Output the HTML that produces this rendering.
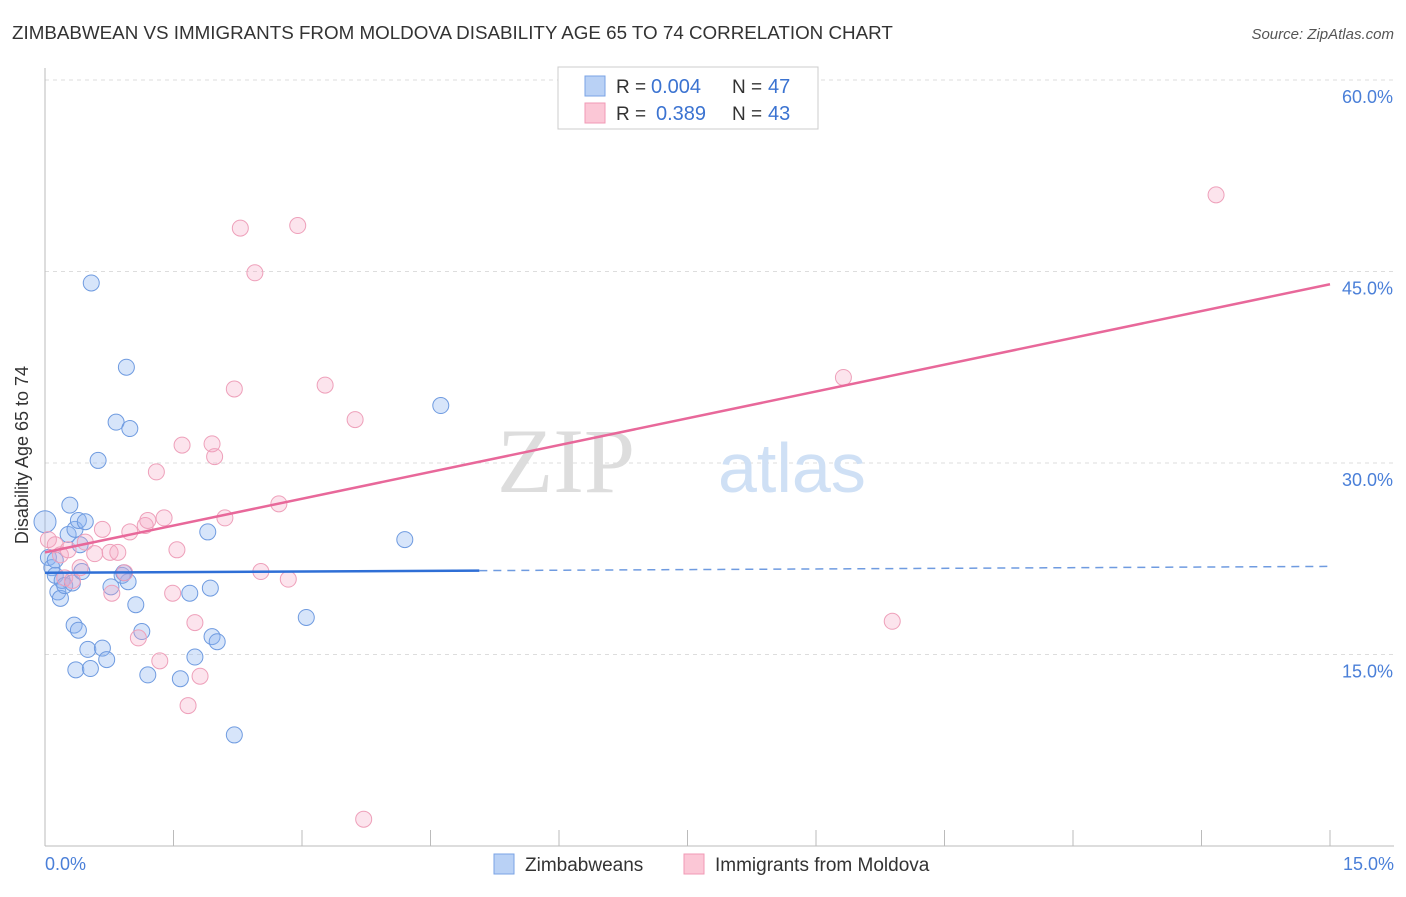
<!DOCTYPE html>
<html><head><meta charset="utf-8"><style>
body{margin:0;background:#fff;font-family:"Liberation Sans",sans-serif}
</style></head><body>
<svg width="1406" height="892" xmlns="http://www.w3.org/2000/svg" font-family="Liberation Sans, sans-serif">
<text x="12" y="39" font-size="18.8" fill="#333">ZIMBABWEAN VS IMMIGRANTS FROM MOLDOVA DISABILITY AGE 65 TO 74 CORRELATION CHART</text>
<text x="1394" y="39" font-size="15" fill="#555" text-anchor="end" font-style="italic">Source: ZipAtlas.com</text>
<g id="grid"></g>
<line x1="45" y1="68" x2="45" y2="846" stroke="#bbb"/>
<line x1="45" y1="846" x2="1394" y2="846" stroke="#bbb"/>
<g id="xticks"></g>
<text x="635" y="492" font-size="92" fill="#ddd" text-anchor="end" font-family="Liberation Serif, serif">ZIP</text>
<text x="718" y="492" font-size="70" fill="#cfe0f5">atlas</text>
<text x="28" y="455" font-size="18" fill="#333" text-anchor="middle" transform="rotate(-90 28 455)">Disability Age 65 to 74</text>
<text x="45" y="870" font-size="18" fill="#4a7fd8">0.0%</text>
<text x="1394" y="870" font-size="18" fill="#4a7fd8" text-anchor="end">15.0%</text>
<g id="marks"></g>
<g>
<rect x="558" y="67" width="260" height="62" fill="#fff" stroke="#ccc"/>
<rect x="585" y="76" width="20" height="20" fill="#b9d1f5" stroke="#7aa3e5"/>
<rect x="585" y="103" width="20" height="20" fill="#fbc7d6" stroke="#f09ab5"/>
<text x="616" y="93" font-size="19" fill="#333">R =</text>
<text x="651" y="93" font-size="20" fill="#3b73d1">0.004</text>
<text x="732" y="93" font-size="19" fill="#333">N =</text>
<text x="768" y="93" font-size="20" fill="#3b73d1">47</text>
<text x="616" y="120" font-size="19" fill="#333">R =</text>
<text x="656" y="120" font-size="20" fill="#3b73d1">0.389</text>
<text x="732" y="120" font-size="19" fill="#333">N =</text>
<text x="768" y="120" font-size="20" fill="#3b73d1">43</text>
</g>
<g>
<rect x="494" y="854" width="20" height="20" fill="#b9d1f5" stroke="#7aa3e5"/>
<text x="525" y="871" font-size="19" fill="#333">Zimbabweans</text>
<rect x="684" y="854" width="20" height="20" fill="#fbc7d6" stroke="#f09ab5"/>
<text x="715" y="871" font-size="19" fill="#333">Immigrants from Moldova</text>
</g>
</svg>
<script>
const yTicks=[15,30,45,60];
const yTickLabels=["15.0%","30.0%","45.0%","60.0%"];
const xTicks=[0,1.5,3,4.5,6,7.5,9,10.5,12,13.5,15];
const blueX=[0.00,0.04,0.08,0.12,0.15,0.18,0.20,0.23,0.27,0.29,0.32,0.35,0.39,0.41,0.43,0.47,0.34,0.39,0.36,0.50,0.53,0.62,0.67,0.72,0.77,0.83,0.90,0.95,0.97,0.99,1.06,1.13,1.20,1.58,1.69,1.75,1.90,1.93,1.95,2.01,2.21,3.05,4.20,4.62,0.54,0.92,0.12];
const blueY=[25.4,22.6,21.8,21.2,19.9,19.4,20.8,20.4,24.4,26.7,20.6,24.8,25.5,23.6,21.5,25.4,17.3,16.9,13.8,15.4,13.9,30.2,15.5,14.6,20.3,33.2,21.2,37.5,20.7,32.7,18.9,16.8,13.4,13.1,19.8,14.8,24.6,20.2,16.4,16.0,8.7,17.9,24.0,34.5,44.1,21.4,22.4];
const pinkX=[0.04,0.12,0.18,0.23,0.27,0.32,0.41,0.47,0.58,0.67,0.76,0.78,0.85,0.93,0.99,1.09,1.17,1.20,1.30,1.34,1.39,1.49,1.54,1.60,1.67,1.75,1.81,1.95,1.98,2.10,2.21,2.28,2.45,2.52,2.73,2.84,2.95,3.27,3.62,3.72,9.32,9.89,13.67];
const pinkY=[24.0,23.6,22.8,21.0,23.2,20.8,21.8,23.8,22.9,24.8,23.0,19.8,23.0,21.4,24.6,16.3,25.1,25.5,29.3,14.5,25.7,19.8,23.2,31.4,11.0,17.5,13.3,31.5,30.5,25.7,35.8,48.4,44.9,21.5,26.8,20.9,48.6,36.1,33.4,2.1,36.7,17.6,51.0];
const blueTrend=[21.4,21.9];const blueSolidEnd=5.07;
const pinkTrend=[23.0,44.0];
const NS="http://www.w3.org/2000/svg";
const sx=v=>45+v/15*1285, sy=v=>846-v*12.767;
function mk(t,a,p){const e=document.createElementNS(NS,t);for(const k in a)e.setAttribute(k,a[k]);p.appendChild(e);return e;}
const grid=document.getElementById('grid');
yTicks.forEach((t,i)=>{
 const l=mk('line',{x1:45,x2:1394,y1:sy(t),y2:sy(t),stroke:'#ddd','stroke-dasharray':'4,4'},grid);
 
 
 const tx=mk('text',{x:1393,y:sy(t)+23,'font-size':18,fill:'#4a7fd8','text-anchor':'end'},grid);
 tx.textContent=yTickLabels[i];
 
 
});
const xt=document.getElementById('xticks');
xTicks.forEach(t=>{
 const l=mk('line',{x1:sx(t),x2:sx(t),y1:830,y2:846,stroke:'#bbb'},xt);
 
 
});
const m=document.getElementById('marks');
function pts(X,Y,fill,stroke,name){X.forEach((x,i)=>{
 const c=mk('circle',{cx:sx(x),cy:sy(Y[i]),r:i===0&&name==='blue-point'?11:8,fill:fill,stroke:stroke,'stroke-width':1},m);
 
 
});}
pts(blueX,blueY,'rgba(140,180,240,0.35)','#6f9be0','blue-point');
pts(pinkX,pinkY,'rgba(245,165,195,0.3)','#eea0ba','pink-point');
const by=x=>blueTrend[0]+(blueTrend[1]-blueTrend[0])*x/15;
let l=mk('line',{x1:sx(0),y1:sy(by(0)),x2:sx(blueSolidEnd),y2:sy(by(blueSolidEnd)),stroke:'#2f6fd6','stroke-width':2.5},m);


l=mk('line',{x1:sx(blueSolidEnd),y1:sy(by(blueSolidEnd)),x2:sx(15),y2:sy(by(15)),stroke:'#6f9be0','stroke-width':1.5,'stroke-dasharray':'8,6'},m);


l=mk('line',{x1:sx(0),y1:sy(pinkTrend[0]),x2:sx(15),y2:sy(pinkTrend[1]),stroke:'#e8689a','stroke-width':2.5},m);


</script>
</body></html>
